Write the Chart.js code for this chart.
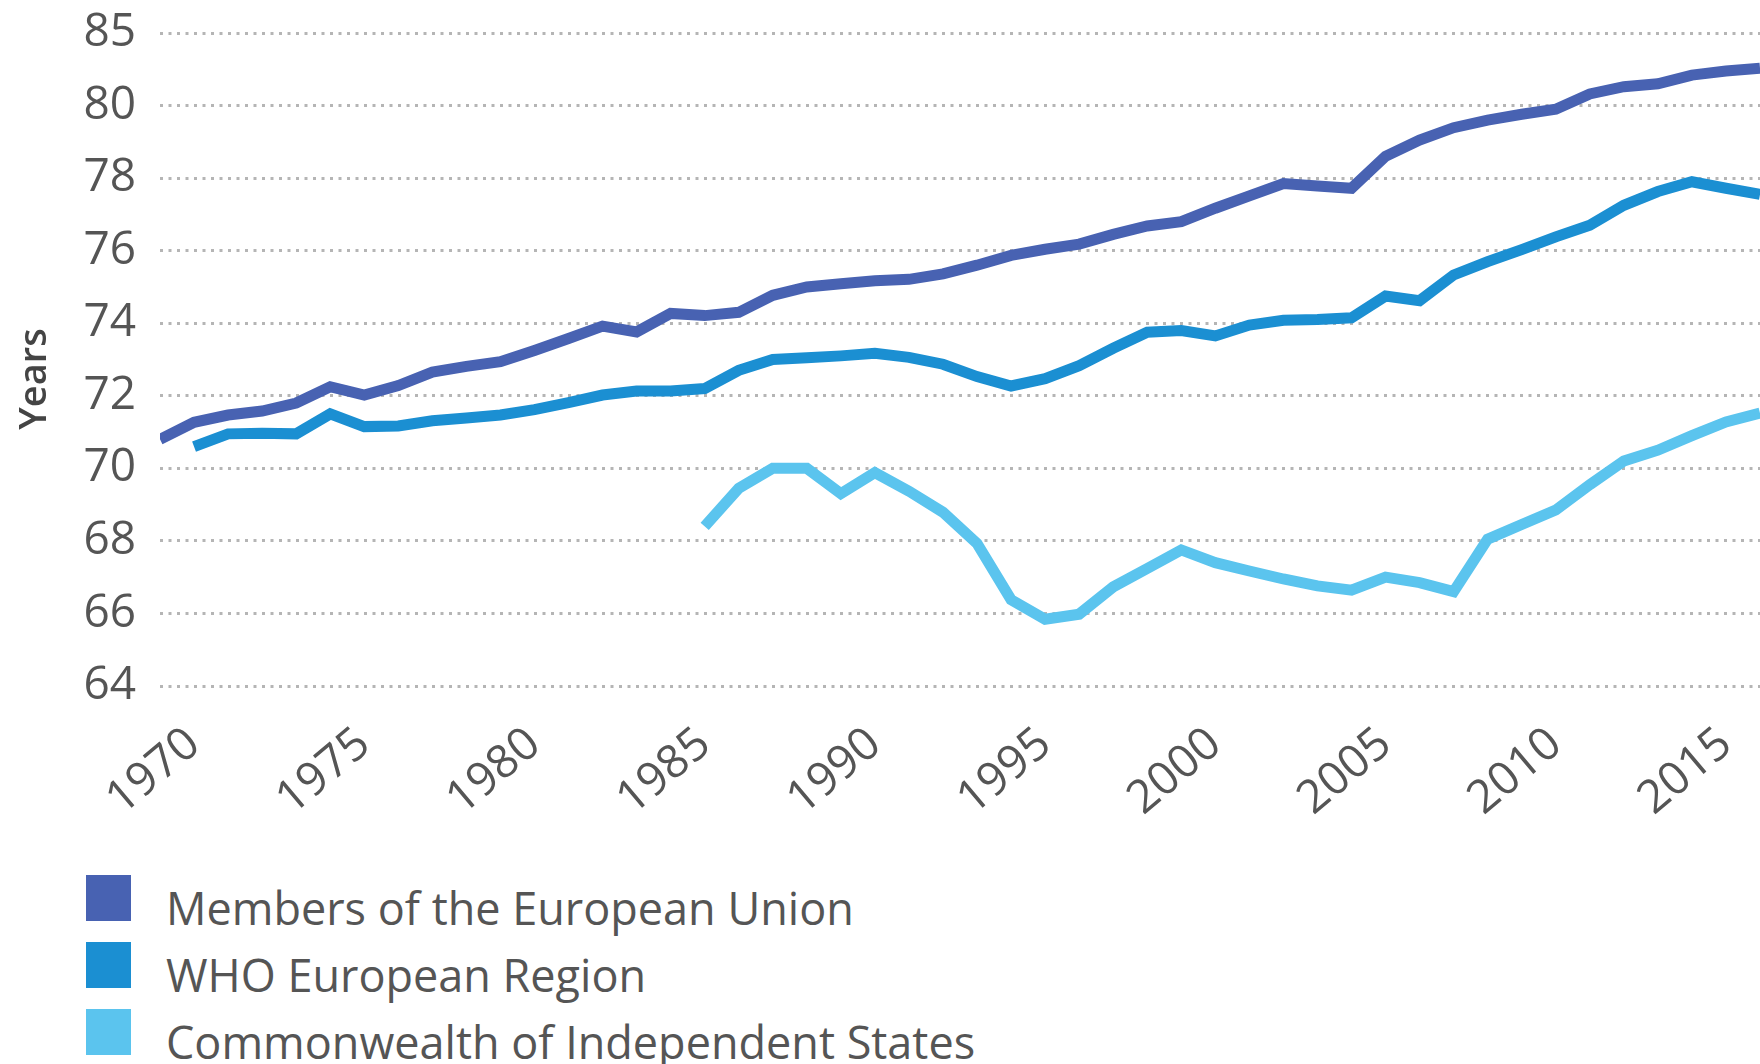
<!DOCTYPE html>
<html>
<head>
<meta charset="utf-8">
<script src="https://cdn.jsdelivr.net/npm/chart.js@4.4.0/dist/chart.umd.min.js"></script>
<style>
  html, body { margin: 0; padding: 0; background: #fff; }
  body { width: 1760px; height: 1064px; overflow: hidden; position: relative; font-family: "Open Sans", sans-serif; }
  #wrap { position: absolute; left: 0; top: 0; width: 1760px; height: 840px; }
  #legend { position: absolute; left: 86px; top: 875px; }
  .row { display: flex; align-items: flex-end; height: 46px; margin-bottom: 21px; }
  .box { width: 45px; height: 46px; margin-right: 35px; flex: none; }
  .txt { font-size: 45px; line-height: 1; color: #555; position: relative; top: 9px; white-space: nowrap; }
</style>
</head>
<body>
<div id="wrap"><canvas id="chart" width="1760" height="840"></canvas></div>
<div id="legend"></div>
<script>
// years on the x axis
const years = [1969, 1970, 1971, 1972, 1973, 1974, 1975, 1976, 1977, 1978, 1979,
    1980, 1981, 1982, 1983, 1984, 1985, 1986, 1987, 1988, 1989,
    1990, 1991, 1992, 1993, 1994, 1995, 1996, 1997, 1998, 1999,
    2000, 2001, 2002, 2003, 2004, 2005, 2006, 2007, 2008, 2009,
    2010, 2011, 2012, 2013, 2014, 2015, 2016];

const seriesNames = ["Members of the European Union", "WHO European Region", "Commonwealth of Independent States"];

// life expectancy, years (null = no data)
const euValues = [70.8, 71.27, 71.47, 71.58, 71.8, 72.25, 72.02, 72.28, 72.65, 72.81, 72.94,
    73.25, 73.58, 73.92, 73.76, 74.27, 74.21, 74.3, 74.77, 75.0, 75.09,
    75.17, 75.21, 75.36, 75.6, 75.87, 76.04, 76.18, 76.45, 76.68, 76.8,
    77.17, 77.51, 77.85, 77.78, 77.72, 78.6, 79.05, 79.39, 79.6, 79.76,
    79.9, 80.32, 80.52, 80.6, 80.84, 80.95, 81.03];

const whoValues = [null, 70.6, 70.95, 70.97, 70.95, 71.5, 71.15, 71.17, 71.31, 71.39, 71.47,
    71.62, 71.81, 72.02, 72.13, 72.13, 72.2, 72.7, 73.0, 73.05, 73.1,
    73.17, 73.06, 72.87, 72.53, 72.27, 72.47, 72.83, 73.31, 73.75, 73.8,
    73.65, 73.95, 74.08, 74.1, 74.15, 74.75, 74.62, 75.33, 75.7, 76.03,
    76.38, 76.7, 77.25, 77.63, 77.9, 77.72, 77.55];

const cisValues = [null, null, null, null, null, null, null, null, null, null, null,
    null, null, null, null, null, 68.4, 69.45, 70.0, 70.0, 69.3,
    69.88, 69.37, 68.79, 67.93, 66.38, 65.84, 65.98, 66.73, 67.24, 67.75,
    67.4, 67.17, 66.95, 66.76, 66.64, 67.0, 66.85, 66.6, 68.05, 68.45,
    68.85, 69.55, 70.2, 70.5, 70.9, 71.28, 71.52];

const xTickYears = [1970, 1975, 1980, 1985, 1990, 1995, 2000, 2005, 2010, 2015];
const yTickValues = [64, 66, 68, 70, 72, 74, 76, 78, 80, 82];
const yTickLabels = ["64", "66", "68", "70", "72", "74", "76", "78", "80", "85"];
const yTitle = "Years";

const colors = ["#4862b2", "#1b8fd2", "#5bc4ee"];
const allValues = [euValues, whoValues, cisValues];

const tickFont = { family: "Open Sans", size: 46 };
const tickColor = "#555555";

const datasets = seriesNames.map((name, i) => ({
    label: name,
    data: years.map((yr, j) => ({ x: yr, y: allValues[i][j] })),
    borderColor: colors[i],
    backgroundColor: colors[i],
    borderWidth: 11,
    pointRadius: 0,
    tension: 0,
    fill: false,
    spanGaps: false
}));

// y axis title, placed a bit below the middle like the original
const yTitlePlugin = {
    id: "yTitle",
    afterDraw(chart) {
        const ctx = chart.ctx;
        ctx.save();
        ctx.translate(35, 379);
        ctx.rotate(-Math.PI / 2);
        ctx.font = "600 38px 'Open Sans'";
        ctx.fillStyle = "#444444";
        ctx.textAlign = "center";
        ctx.textBaseline = "middle";
        ctx.fillText(yTitle, 0, 0);
        ctx.restore();
    }
};

const chart = new Chart(document.getElementById("chart"), {
    type: "line",
    data: { datasets: datasets },
    plugins: [yTitlePlugin],
    options: {
        responsive: false,
        animation: false,
        layout: { padding: { top: 33, right: 0, bottom: 0, left: 0 } },
        plugins: {
            legend: { display: false },
            tooltip: { enabled: false }
        },
        scales: {
            x: {
                type: "linear",
                min: 1969,
                max: 2016,
                afterBuildTicks: s => { s.ticks = xTickYears.map(v => ({ value: v })); },
                afterFit: s => { s.height = 154; s.paddingLeft = 0; s.paddingRight = 0; },
                grid: { display: false },
                border: { display: false },
                ticks: {
                    autoSkip: false,
                    minRotation: 40,
                    maxRotation: 40,
                    padding: 23,
                    font: tickFont,
                    color: tickColor,
                    callback: v => String(v)
                }
            },
            y: {
                min: 64,
                max: 82,
                afterBuildTicks: s => { s.ticks = yTickValues.map(v => ({ value: v })); },
                afterFit: s => { s.width = 160; s.paddingTop = 0; s.paddingBottom = 0; },
                grid: { color: "#b5b5b5", lineWidth: 3, drawTicks: false },
                border: { display: false, dash: [3, 5.5] },
                ticks: {
                    padding: 24,
                    font: tickFont,
                    color: tickColor,
                    callback: (v, i) => yTickLabels[i]
                }
            }
        }
    }
});

// legend, one series per row
const legendEl = document.getElementById("legend");
chart.data.datasets.forEach(ds => {
    const row = document.createElement("div");
    row.className = "row";
    row.innerHTML = `<span class="box" style="background:${ds.borderColor}"></span><span class="txt">${ds.label}</span>`;
    legendEl.appendChild(row);
});
</script>
</body>
</html>
